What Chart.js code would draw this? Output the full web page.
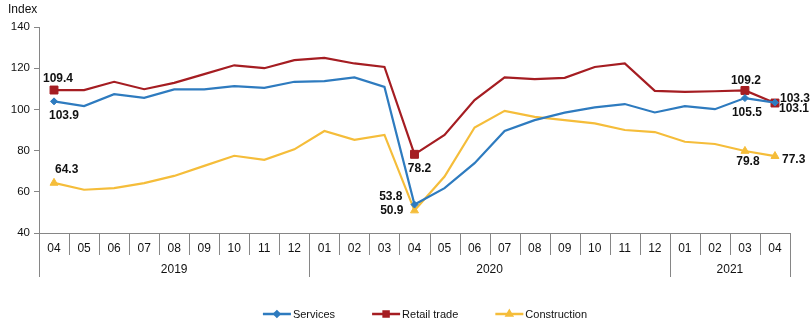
<!DOCTYPE html>
<html>
<head>
<meta charset="utf-8">
<script src="https://cdn.jsdelivr.net/npm/chart.js@4.4.1/dist/chart.umd.min.js"></script>
<style>
  html, body { margin: 0; padding: 0; background: #ffffff; }
  #wrap { width: 812px; height: 324px; }
</style>
</head>
<body>
<div id="wrap"><canvas id="c" width="812" height="324"></canvas></div>
<script>
// ---- data ----
const months = ['04','05','06','07','08','09','10','11','12',
                '01','02','03','04','05','06','07','08','09','10','11','12',
                '01','02','03','04'];
const yearLabels = ['2019', '2020', '2021'];
const yearSpans = [9, 12, 4];
const services = [103.9,101.6,107.4,105.6,109.7,109.7,111.3,110.5,113.4,
                  113.7,115.5,110.9,53.8,61.8,73.9,89.5,94.8,98.4,101.0,102.6,98.5,
                  101.6,100.1,105.5,103.3];
const retail = [109.4,109.4,113.4,109.8,112.9,117.1,121.4,120.0,123.9,
                125.0,122.3,120.6,78.2,87.6,104.5,115.5,114.7,115.3,120.6,122.3,109.0,
                108.5,108.8,109.2,103.1];
const construction = [64.3,61.0,61.8,64.2,67.7,72.6,77.5,75.5,80.6,
                      89.5,85.2,87.6,50.9,67.4,91.2,99.3,96.4,94.8,93.2,90.0,89.0,
                      84.3,83.2,79.8,77.3];
const yTicks = [40, 60, 80, 100, 120, 140];
const labelledIdx = [0, 12, 23, 24];

// ---- styles ----
const FONT = "'Liberation Sans', Arial, sans-serif";
const AXIS = '#868686';
const C_SERV = '#2E7BBF';
const C_RET = '#A51D22';
const C_CON = '#F5BD3A';

// label placements (dx, dy relative to point, text alignment)
const labelPlace = [
  { 0: [10, 14, 'center'], 12: [-12, -8, 'right'], 23: [2, 15, 'center'], 24: [5, -4, 'left'] },
  { 0: [4, -11, 'center'], 12: [5, 14, 'center'], 23: [1, -10, 'center'], 24: [4, 6, 'left'] },
  { 0: [1, -13, 'left'], 12: [-11, 0, 'right'], 23: [3, 11, 'center'], 24: [7, 4, 'left'] }
];

function radiusFor(r) {
  return ctx => labelledIdx.includes(ctx.dataIndex) ? r : 0;
}

const overlay = {
  id: 'overlay',
  afterDatasetsDraw(chart) {
    const ctx = chart.ctx;
    ctx.save();
    ctx.font = 'bold 12px ' + FONT;
    ctx.fillStyle = '#111';
    ctx.textBaseline = 'middle';
    chart.data.datasets.forEach((ds, di) => {
      const meta = chart.getDatasetMeta(di);
      labelledIdx.forEach(i => {
        const p = meta.data[i];
        const pl = labelPlace[di][i];
        ctx.textAlign = pl[2];
        ctx.fillText(ds.data[i].toFixed(1), p.x + pl[0], p.y + pl[1]);
      });
    });
    ctx.restore();
  },
  afterDraw(chart) {
    const ctx = chart.ctx;
    const xs = chart.scales.x;
    const n = months.length;
    const cw = (xs.right - xs.left) / n;
    const top = xs.top;
    ctx.save();
    // separators
    ctx.strokeStyle = AXIS;
    ctx.lineWidth = 1;
    const yearBounds = [0];
    yearSpans.forEach(s => yearBounds.push(yearBounds[yearBounds.length - 1] + s));
    for (let i = 0; i <= n; i++) {
      const x = Math.round(xs.left + i * cw) + 0.5;
      const isYear = yearBounds.includes(i);
      ctx.beginPath();
      ctx.moveTo(x, top);
      ctx.lineTo(x, top + (isYear ? 44 : 22));
      ctx.stroke();
    }
    // year labels
    ctx.fillStyle = '#111';
    ctx.font = '12px ' + FONT;
    ctx.textAlign = 'center';
    ctx.textBaseline = 'middle';
    yearLabels.forEach((y, k) => {
      const x0 = xs.left + yearBounds[k] * cw;
      const x1 = xs.left + yearBounds[k + 1] * cw;
      ctx.fillText(y, (x0 + x1) / 2, top + 37);
    });
    // title
    ctx.textAlign = 'left';
    ctx.font = '12px ' + FONT;
    ctx.fillText('Index', 8, 10);
    // legend
    ctx.font = '11px ' + FONT;
    const items = chart.data.datasets.map(d => ({ d, tw: ctx.measureText(d.label).width }));
    const lineLen = 28, gapT = 2, gapI = 37;
    let total = 0;
    items.forEach((it, k) => { total += lineLen + gapT + it.tw + (k < items.length - 1 ? gapI : 0); });
    let lx = 425 - total / 2;
    const ly = 314;
    items.forEach(it => {
      const d = it.d;
      ctx.strokeStyle = d.borderColor;
      ctx.lineWidth = 2.5;
      ctx.beginPath();
      ctx.moveTo(lx, ly);
      ctx.lineTo(lx + lineLen, ly);
      ctx.stroke();
      Chart.helpers.drawPoint(ctx, { pointStyle: d.pointStyle, radius: d.legendR, borderWidth: 1 }, lx + lineLen / 2, ly);
      ctx.fillStyle = d.borderColor;
      ctx.fill();
      ctx.fillStyle = '#111';
      ctx.textAlign = 'left';
      ctx.fillText(d.label, lx + lineLen + gapT, ly + 0.5);
      lx += lineLen + gapT + it.tw + gapI;
    });
    ctx.restore();
  }
};

new Chart(document.getElementById('c'), {
  type: 'line',
  data: {
    labels: months,
    datasets: [
      { label: 'Services', data: services, borderColor: C_SERV, backgroundColor: C_SERV,
        borderWidth: 2.2, pointStyle: 'rectRot', pointRadius: radiusFor(3.5), pointBorderWidth: 1,
        legendR: 2.5, tension: 0 },
      { label: 'Retail trade', data: retail, borderColor: C_RET, backgroundColor: C_RET,
        borderWidth: 2.2, pointStyle: 'rect', pointRadius: radiusFor(5.6), pointBorderWidth: 1,
        legendR: 3.5, tension: 0 },
      { label: 'Construction', data: construction, borderColor: C_CON, backgroundColor: C_CON,
        borderWidth: 2.2, pointStyle: 'triangle', pointRadius: radiusFor(4.6), pointBorderWidth: 1,
        legendR: 3, tension: 0 }
    ]
  },
  options: {
    responsive: false,
    animation: false,
    devicePixelRatio: 1,
    layout: { padding: { top: 27, right: 22, left: 0, bottom: 0 } },
    plugins: { legend: { display: false }, tooltip: { enabled: false }, title: { display: false } },
    scales: {
      x: {
        offset: true,
        grid: { display: false },
        border: { color: AXIS, width: 1 },
        ticks: { font: { family: FONT, size: 12 }, color: '#111', padding: 0,
                 maxRotation: 0, autoSkip: false },
        afterFit(s) { s.height = 91; }
      },
      y: {
        min: 40, max: 140,
        afterBuildTicks(s) { s.ticks = yTicks.map(v => ({ value: v })); },
        grid: { display: true, drawOnChartArea: false, drawTicks: true, tickLength: 5, color: AXIS },
        border: { color: AXIS, width: 1 },
        ticks: { font: { family: FONT, size: 11.5 }, color: '#111', padding: 4 },
        afterFit(s) { s.width = 39; }
      }
    }
  },
  plugins: [overlay]
});
</script>
</body>
</html>
